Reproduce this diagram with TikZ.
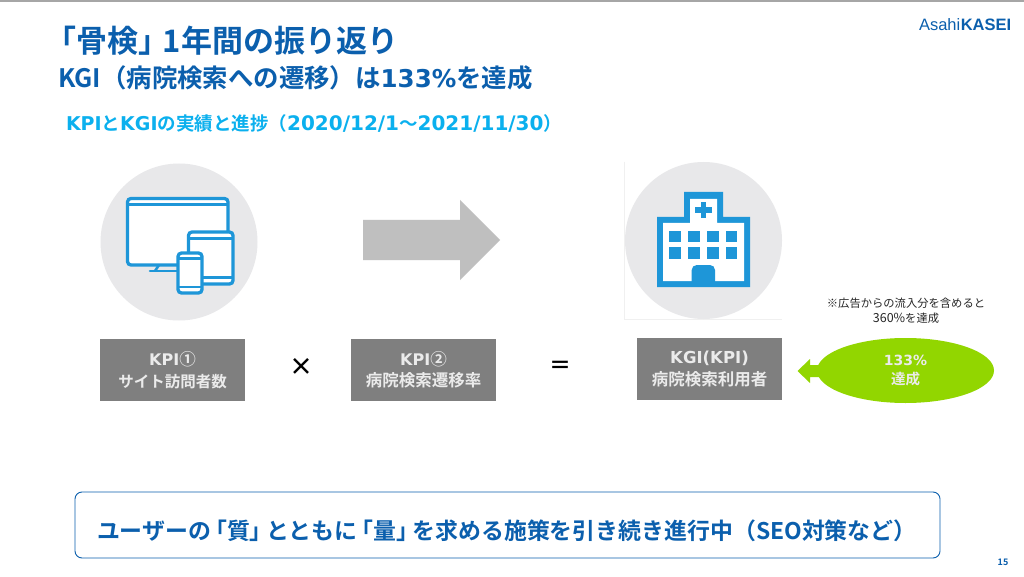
\documentclass[tikz,border=0pt]{standalone}
\usepackage{fontspec}
\setmainfont{Noto Sans CJK JP}[BoldFont={Noto Sans CJK JP Bold}]
\newfontfamily\logofont{Liberation Sans}
\newfontfamily\latf{DejaVu Sans}
\usetikzlibrary{calc,shapes.geometric}
\definecolor{navy}{HTML}{0B5FAD}
\definecolor{sky}{HTML}{0BB0EE}
\definecolor{icon}{HTML}{1E96D8}
\definecolor{disc}{HTML}{E8E8EA}
\definecolor{boxgray}{HTML}{7F7F7F}
\definecolor{boxtext}{HTML}{EBEBEB}
\definecolor{limeg}{HTML}{92D600}
\newcommand{\fs}[1]{\fontsize{#1}{#1}\selectfont}
\newcommand{\lat}[2]{{\fontsize{#1}{#1}\latf\bfseries #2}}
\newcommand{\lbk}{\hspace{-.3em}「}
\newcommand{\rbk}{」\hspace{-.3em}}
\tikzset{
  txt/.style={inner sep=0pt,outer sep=0pt,anchor=west},
  kpibox/.style={fill=boxgray,inner sep=0pt,minimum width=145pt,minimum height=62pt,align=center,text=boxtext,font=\fs{16.5}\bfseries},
  disk/.style={circle,fill=disc,inner sep=0pt,minimum size=157pt},
  ico/.style={draw=icon,line width=3.3pt,fill=white,rounded corners=3.5pt},
  icl/.style={draw=icon,line width=2.6pt},
  hosp/.style={fill=icon},
}
\begin{document}
\begin{tikzpicture}[x=1pt,y=-1pt]
\useasboundingbox (0,0) rectangle (1024,577);
\fill[white] (0,0) rectangle (1024,577);
\fill[black!35] (0,0) rectangle (1024,2);
% headings
\node[txt,text=navy,font=\fs{31}\bfseries] (title) at (45,41) {「骨検」\hspace{-.2em}1年間の振り返り};
\node[txt,text=navy,font=\fs{25.4}\bfseries] (sub) at (58,78) {KGI（病院検索への遷移）は\lat{24.5}{133\%}を達成};
\node[txt,text=sky,font=\fs{18.5}\bfseries] (kpit) at (66,123) {\lat{19}{KPI}と\lat{19}{KGI}の実績と進捗（\lat{20}{2020/12/1}〜\lat{20}{2021/11/30}）};
\node[txt,text=navy,font=\fs{16.5}\logofont] (logo) at (919,25) {Asahi\hspace{0.5pt}{\bfseries KASEI}};
% left disc with devices
\node[disk] (d1) at (179,242) {};
\draw[ico] (127.5,198.5) rectangle (228,265);
\draw[icl] (128,204.5) -- (228,204.5);
\draw[icl,line cap=round] (150,271) -- (178,271);
\draw[icl] (159,265) -- (155,271);
\draw[ico] (188.5,232) rectangle (233,284);
\draw[icl] (189,238.5) -- (233,238.5);
\draw[icl] (189,277.5) -- (233,277.5);
\draw[ico] (178,253) rectangle (202,293);
\draw[icl] (178,258.5) -- (202,258.5);
\draw[icl] (178,287) -- (202,287);
% big arrow
\fill[black!25] (363,220) -- (460,220) -- (460,200) -- (500,240) -- (460,280) -- (460,260) -- (363,260) -- cycle;
% right disc with hospital
\draw[black!6,line width=0.8pt] (624.5,162) -- (624.5,319.5) -- (782,319.5);
\node[disk] (d2) at (703.5,240.5) {};
\fill[hosp] (684,192) -- (723,192) -- (723,217) -- (750,217) -- (750,287) -- (657,287) -- (657,217) -- (684,217) -- cycle;
\fill[white] (690,199) -- (717,199) -- (717,223) -- (744,223) -- (744,281) -- (663,281) -- (663,223) -- (690,223) -- cycle;
\fill[hosp] (700.5,202) rectangle (706,218);
\fill[hosp] (695,207.5) rectangle (711.5,213);
\foreach \wx in {669.3,688.3,707.3,726} \foreach \wy in {230.7,247.3} \fill[hosp] (\wx,\wy) rectangle ++(11.4,11.4);
\fill[hosp] (691.7,282) -- (691.7,270) arc[start angle=180,end angle=270,radius=5] -- (710,265) arc[start angle=-90,end angle=0,radius=5] -- (715,282) -- cycle;
% boxes
\node[kpibox] (k1) at (172.5,370) {\lat{16}{KPI}①\\[5pt]{\fs{15.5}サイト訪問者数}};
\node[kpibox] (k2) at (423.5,370) {\lat{16}{KPI}②\\[5pt]病院検索遷移率};
\node[kpibox] (k3) at (709.5,369) {\lat{16.5}{KGI(KPI)}\\[5pt]病院検索利用者};
\node[inner sep=0pt,font=\fs{24}\bfseries] (times) at (301,367) {×};
\node[inner sep=0pt,font=\fs{22}\bfseries] (eq) at (560,367) {＝};
% note and ellipse
\node[inner sep=0pt,align=center,font=\fs{11.3},text=black!85] (note) at (906,311) {※広告からの流入分を含めると\\[3.5pt]{\fs{12.5}360\%}を達成};
\fill[limeg] (820,365) -- (810,365) -- (810,359) -- (797.5,371) -- (810,383) -- (810,377) -- (820,377) -- cycle;
\node[ellipse,fill=limeg,inner sep=0pt,minimum width=177pt,minimum height=65pt,align=center,text=boxtext,font=\fs{14.5}\bfseries] (goal) at (905.5,370.5) {\lat{14}{133\%}\\[4pt]達成};
% bottom message
\node[draw=navy,line width=0.9pt,rounded corners=7pt,minimum width=865pt,minimum height=66pt,inner sep=0pt] (msg) at (507.5,525) {};
\node[txt,text=navy,font=\fs{22.9}\bfseries] (msgt) at (97,531) {ユーザーの\lbk 質\rbk とともに\lbk 量\rbk を求める施策を引き続き進行中（SEO対策など）};
\node[inner sep=0pt,text=navy,font=\fs{9}\bfseries] (page) at (1003,562) {15};
\end{tikzpicture}
\end{document}
